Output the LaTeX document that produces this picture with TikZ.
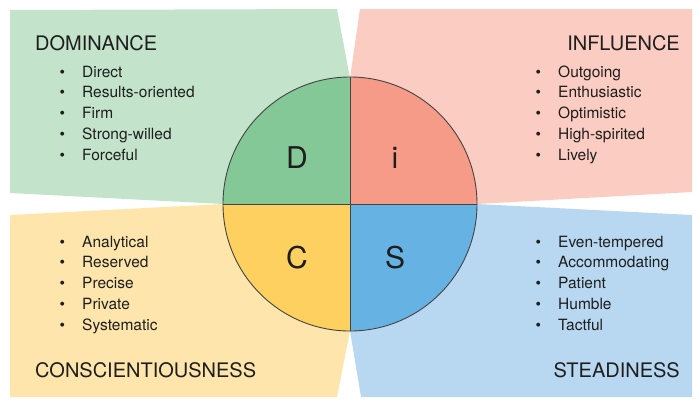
\documentclass[tikz,border=0pt]{standalone}
\usepackage{fontspec}
\setmainfont{TeX Gyre Heros}
\usepackage{xcolor}
\usetikzlibrary{positioning}

\definecolor{dlight}{HTML}{C3E3CB}
\definecolor{ilight}{HTML}{FBCCC1}
\definecolor{clight}{HTML}{FDE5AC}
\definecolor{slight}{HTML}{B7D8F0}
\definecolor{dcol}{HTML}{85C898}
\definecolor{icol}{HTML}{F69B87}
\definecolor{ccol}{HTML}{FDD060}
\definecolor{scol}{HTML}{66B2E2}
\definecolor{ink}{HTML}{1E1E1E}
\definecolor{rim}{HTML}{444444}

\newcommand{\bul}{\strut\makebox[22.5pt][l]{\textbullet}}

\begin{document}
\begin{tikzpicture}[x=1pt, y=-1pt, title/.style={font=\fontsize{20}{24}\selectfont, text=ink, inner sep=0pt}, items/.style={align=left, font=\fontsize{15.5}{20.8}\selectfont, text=ink, inner sep=0pt}, letter/.style={font=\fontsize{30}{36}\selectfont, text=ink, inner sep=0pt}]
	\useasboundingbox (0,0) rectangle (700,408);
	% background panels
	\fill[dlight] (10,10) -- (337,9) -- (350,78) -- (350,204) -- (223,204) -- (10,193) -- cycle;
	\fill[ilight] (360,9) -- (692,9) -- (692,192) -- (477,204) -- (350,204) -- (350,78) -- cycle;
	\fill[clight] (10,215) -- (223,204) -- (350,204) -- (350,331) -- (337,397) -- (10,397) -- cycle;
	\fill[slight] (477,204) -- (692,215) -- (692,397) -- (361,397) -- (350,331) -- (350,204) -- cycle;
	% disc
	\begin{scope}
		\clip (350,204) circle[radius=127pt];
		\fill[dcol] (350,204) rectangle (220,74);
		\fill[icol] (350,204) rectangle (480,74);
		\fill[ccol] (350,204) rectangle (220,334);
		\fill[scol] (350,204) rectangle (480,334);
	\end{scope}
	\node[circle, draw=rim, line width=0.9pt, minimum size=254pt, inner sep=0pt] (disc) at (350,204) {};
	\draw[rim, line width=0.7pt] (disc.north) -- (disc.south);
	\draw[rim, line width=0.7pt] (disc.west) -- (disc.east);
	\node[letter, anchor=base] (D) at (297,168) {D};
	\node[letter, anchor=base] (I) at (395,168) {i};
	\node[letter, anchor=base] (C) at (297,268) {C};
	\node[letter, anchor=base] (S) at (395,268) {S};
	% titles
	\node[title, anchor=base west] (dom) at (35,50) {DOMINANCE};
	\node[title, anchor=base east] (inf) at (680,50) {INFLUENCE};
	\node[title, anchor=base west] (con) at (35,377) {CONSCIENTIOUSNESS};
	\node[title, anchor=base east] (ste) at (680,377) {STEADINESS};
	% lists
	\node[items, anchor=north west] (dlist) at (59.5,62.4) {\bul Direct\\ \bul Results-oriented\\ \bul Firm\\ \bul Strong-willed\\ \bul Forceful};
	\node[items, anchor=north west] (ilist) at (535.5,62.4) {\bul Outgoing\\ \bul Enthusiastic\\ \bul Optimistic\\ \bul High-spirited\\ \bul Lively};
	\node[items, anchor=north west] (clist) at (59.5,232.4) {\bul Analytical\\ \bul Reserved\\ \bul Precise\\ \bul Private\\ \bul Systematic};
	\node[items, anchor=north west] (slist) at (535.5,232.4) {\bul Even-tempered\\ \bul Accommodating\\ \bul Patient\\ \bul Humble\\ \bul Tactful};
\end{tikzpicture}
\end{document}
